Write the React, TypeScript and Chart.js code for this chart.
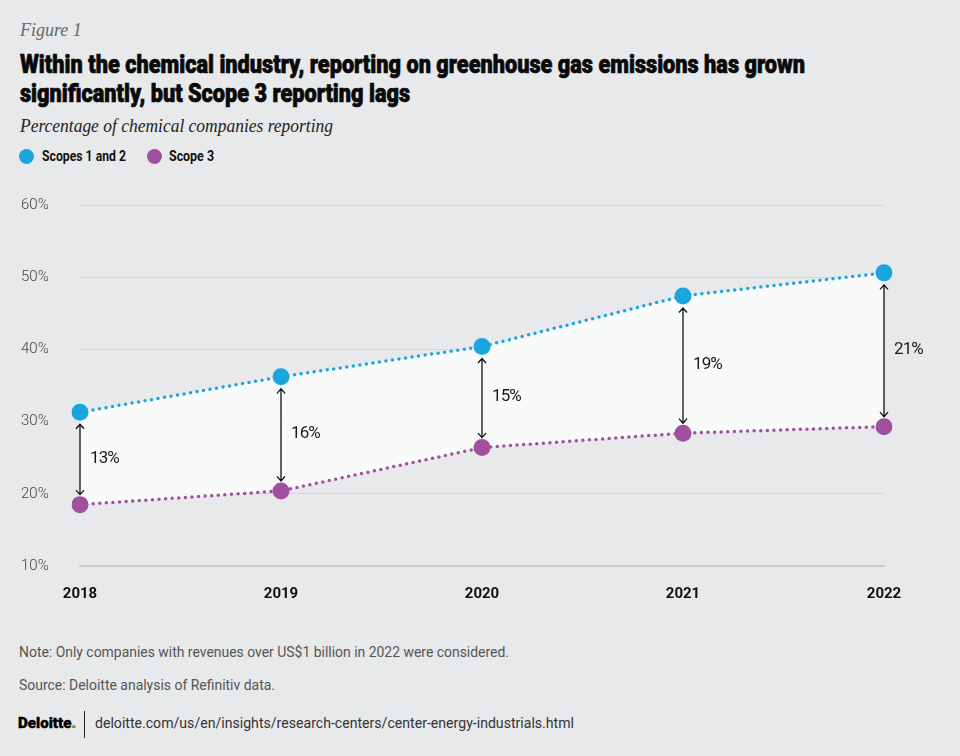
import React, { useEffect, useLayoutEffect, useRef } from "react";
import { Chart, registerables } from "chart.js";

Chart.register(...registerables);

const years = ["2018", "2019", "2020", "2021", "2022"];
const scopes12 = [31.3, 36.2, 40.4, 47.4, 50.6];
const scope3 = [18.5, 20.4, 26.4, 28.4, 29.3];
const gapLabels = ["13%", "16%", "15%", "19%", "21%"];
const yTicks = [10, 20, 30, 40, 50, 60];

const BLUE = "#1ba5df";
const PURPLE = "#a0519e";
const BG = "#e8e9eb";
const SANS = "Roboto, sans-serif";

const arrowPlugin = {
  id: "gapArrows",
  afterDatasetsDraw(chart: any) {
    const ctx = chart.ctx;
    const m0 = chart.getDatasetMeta(0).data;
    const m1 = chart.getDatasetMeta(1).data;
    ctx.save();
    ctx.strokeStyle = "#111";
    ctx.lineWidth = 1.3;
    ctx.fillStyle = "#1a1a1a";
    ctx.font = `400 17px ${SANS}`;
    try {
      (ctx as any).letterSpacing = "-0.9px";
    } catch (e) {}
    ctx.textBaseline = "middle";
    ctx.textAlign = "left";
    for (let i = 0; i < m0.length; i++) {
      const x = m0[i].x;
      const yTop = m0[i].y + 12;
      const yBot = m1[i].y - 10;
      ctx.beginPath();
      ctx.moveTo(x, yTop);
      ctx.lineTo(x, yBot);
      ctx.moveTo(x - 4, yTop + 4.5);
      ctx.lineTo(x, yTop);
      ctx.lineTo(x + 4, yTop + 4.5);
      ctx.moveTo(x - 4, yBot - 4.5);
      ctx.lineTo(x, yBot);
      ctx.lineTo(x + 4, yBot - 4.5);
      ctx.stroke();
      ctx.fillText(gapLabels[i], x + 10, (m0[i].y + m1[i].y) / 2);
    }
    ctx.restore();
  },
};

function LineChart() {
  const ref = useRef<HTMLCanvasElement | null>(null);
  useEffect(() => {
    if (!ref.current) return;
    const chart = new Chart(ref.current, {
      type: "line",
      data: {
        labels: years,
        datasets: [
          {
            label: "Scopes 1 and 2",
            data: scopes12,
            borderColor: BLUE,
            backgroundColor: BLUE,
            borderWidth: 3.5,
            borderDash: [0, 6.6],
            borderCapStyle: "round",
            pointRadius: 8.5,
            pointBackgroundColor: BLUE,
            pointBorderWidth: 0,
            fill: false,
          },
          {
            label: "Scope 3",
            data: scope3,
            borderColor: PURPLE,
            backgroundColor: "rgba(255,255,255,0.75)",
            borderWidth: 3.5,
            borderDash: [0, 6.6],
            borderCapStyle: "round",
            pointRadius: 8.5,
            pointBackgroundColor: PURPLE,
            pointBorderWidth: 0,
            fill: "-1",
          },
        ],
      },
      options: {
        animation: false,
        responsive: false,
        maintainAspectRatio: false,
        layout: { padding: { left: 21, right: 76, top: 15, bottom: 0 } },
        plugins: { legend: { display: false }, tooltip: { enabled: false } },
        scales: {
          x: {
            offset: false,
            grid: { display: false, drawTicks: false },
            border: { display: true, color: "#c6c7ca", width: 1.5 },
            ticks: {
              color: "#111",
              padding: 19,
              font: { family: SANS, size: 15, weight: "bold" },
            },
          },
          y: {
            min: 10,
            max: 60,
            afterFit(scale: any) {
              scale.width = 59;
            },
            afterBuildTicks(scale: any) {
              scale.ticks = yTicks.map((v) => ({ value: v }));
            },
            grid: { color: "#d5d6d9", lineWidth: 1, drawTicks: false },
            border: { display: false },
            ticks: {
              crossAlign: "far",
              padding: 0,
              color: "#444",
              font: { family: SANS, size: 15, weight: "300" },
              callback: (v: any) => `${v}%`,
            },
          },
        },
      },
      plugins: [arrowPlugin],
    });
    return () => chart.destroy();
  }, []);
  return <canvas ref={ref} width={960} height={432} style={{ display: "block" }} />;
}

function FitText({ width, style, children }: { width: number; style?: any; children: any }) {
  const ref = useRef<HTMLSpanElement | null>(null);
  useLayoutEffect(() => {
    const el = ref.current;
    if (!el) return;
    el.style.transform = "none";
    const w = el.getBoundingClientRect().width;
    if (w > 0) el.style.transform = `scaleX(${width / w})`;
  }, [width]);
  return (
    <span
      ref={ref}
      style={{ display: "inline-block", whiteSpace: "nowrap", transformOrigin: "left center", ...style }}
    >
      {children}
    </span>
  );
}

export default function App() {
  useEffect(() => {
    document.body.style.margin = "0";
  }, []);
  const dot = (c: string, left: number) => (
    <span
      style={{
        position: "absolute",
        left,
        top: 149,
        width: 15,
        height: 15,
        borderRadius: "50%",
        background: c,
      }}
    />
  );
  const titleStyle = {
    fontFamily: SANS,
    fontWeight: 900,
    fontSize: 25,
    lineHeight: "29px",
    color: "#0a0a0a",
    WebkitTextStroke: "0.7px #0a0a0a",
  };
  const smallStyle = { fontFamily: SANS, fontSize: 15, lineHeight: "20px", color: "#555" };
  return (
    <div style={{ position: "relative", width: 960, height: 756, background: BG, overflow: "hidden" }}>
      <div
        style={{
          position: "absolute",
          left: 20,
          top: 20,
          fontFamily: "'Liberation Serif', serif",
          fontStyle: "italic",
          fontSize: 18,
          color: "#666",
        }}
      >
        Figure 1
      </div>
      <div style={{ position: "absolute", left: 20, top: 50 }}>
        <FitText width={785} style={titleStyle}>
          Within the chemical industry, reporting on greenhouse gas emissions has grown
        </FitText>
      </div>
      <div style={{ position: "absolute", left: 20, top: 79 }}>
        <FitText width={390} style={titleStyle}>
          significantly, but Scope 3 reporting lags
        </FitText>
      </div>
      <div style={{ position: "absolute", left: 20, top: 116 }}>
        <FitText
          width={313}
          style={{
            fontFamily: "'Liberation Serif', serif",
            fontStyle: "italic",
            fontSize: 18,
            color: "#222",
          }}
        >
          Percentage of chemical companies reporting
        </FitText>
      </div>
      {dot(BLUE, 19)}
      {dot(PURPLE, 147)}
      <div style={{ position: "absolute", left: 42, top: 146 }}>
        <FitText width={84} style={{ fontFamily: SANS, fontWeight: "bold", fontSize: 15, lineHeight: "20px", color: "#111" }}>
          Scopes 1 and 2
        </FitText>
      </div>
      <div style={{ position: "absolute", left: 169, top: 146 }}>
        <FitText width={45} style={{ fontFamily: SANS, fontWeight: "bold", fontSize: 15, lineHeight: "20px", color: "#111" }}>
          Scope 3
        </FitText>
      </div>
      <div style={{ position: "absolute", left: 0, top: 190 }}>
        <LineChart />
      </div>
      <div style={{ position: "absolute", left: 19, top: 642 }}>
        <FitText width={490} style={smallStyle}>
          Note: Only companies with revenues over US$1 billion in 2022 were considered.
        </FitText>
      </div>
      <div style={{ position: "absolute", left: 19, top: 675 }}>
        <FitText width={256} style={smallStyle}>
          Source: Deloitte analysis of Refinitiv data.
        </FitText>
      </div>
      <div style={{ position: "absolute", left: 18, top: 713 }}>
        <FitText
          width={58}
          style={{ fontFamily: SANS, fontWeight: 900, fontSize: 15, lineHeight: "20px", color: "#000", WebkitTextStroke: "0.4px #000" }}
        >
          Deloitte<span style={{ color: "#86bc25" }}>.</span>
        </FitText>
      </div>
      <div style={{ position: "absolute", left: 84, top: 711, width: 1.3, height: 27, background: "#222" }} />
      <div style={{ position: "absolute", left: 95, top: 713 }}>
        <FitText width={479} style={{ ...smallStyle, color: "#333" }}>
          deloitte.com/us/en/insights/research-centers/center-energy-industrials.html
        </FitText>
      </div>
    </div>
  );
}
